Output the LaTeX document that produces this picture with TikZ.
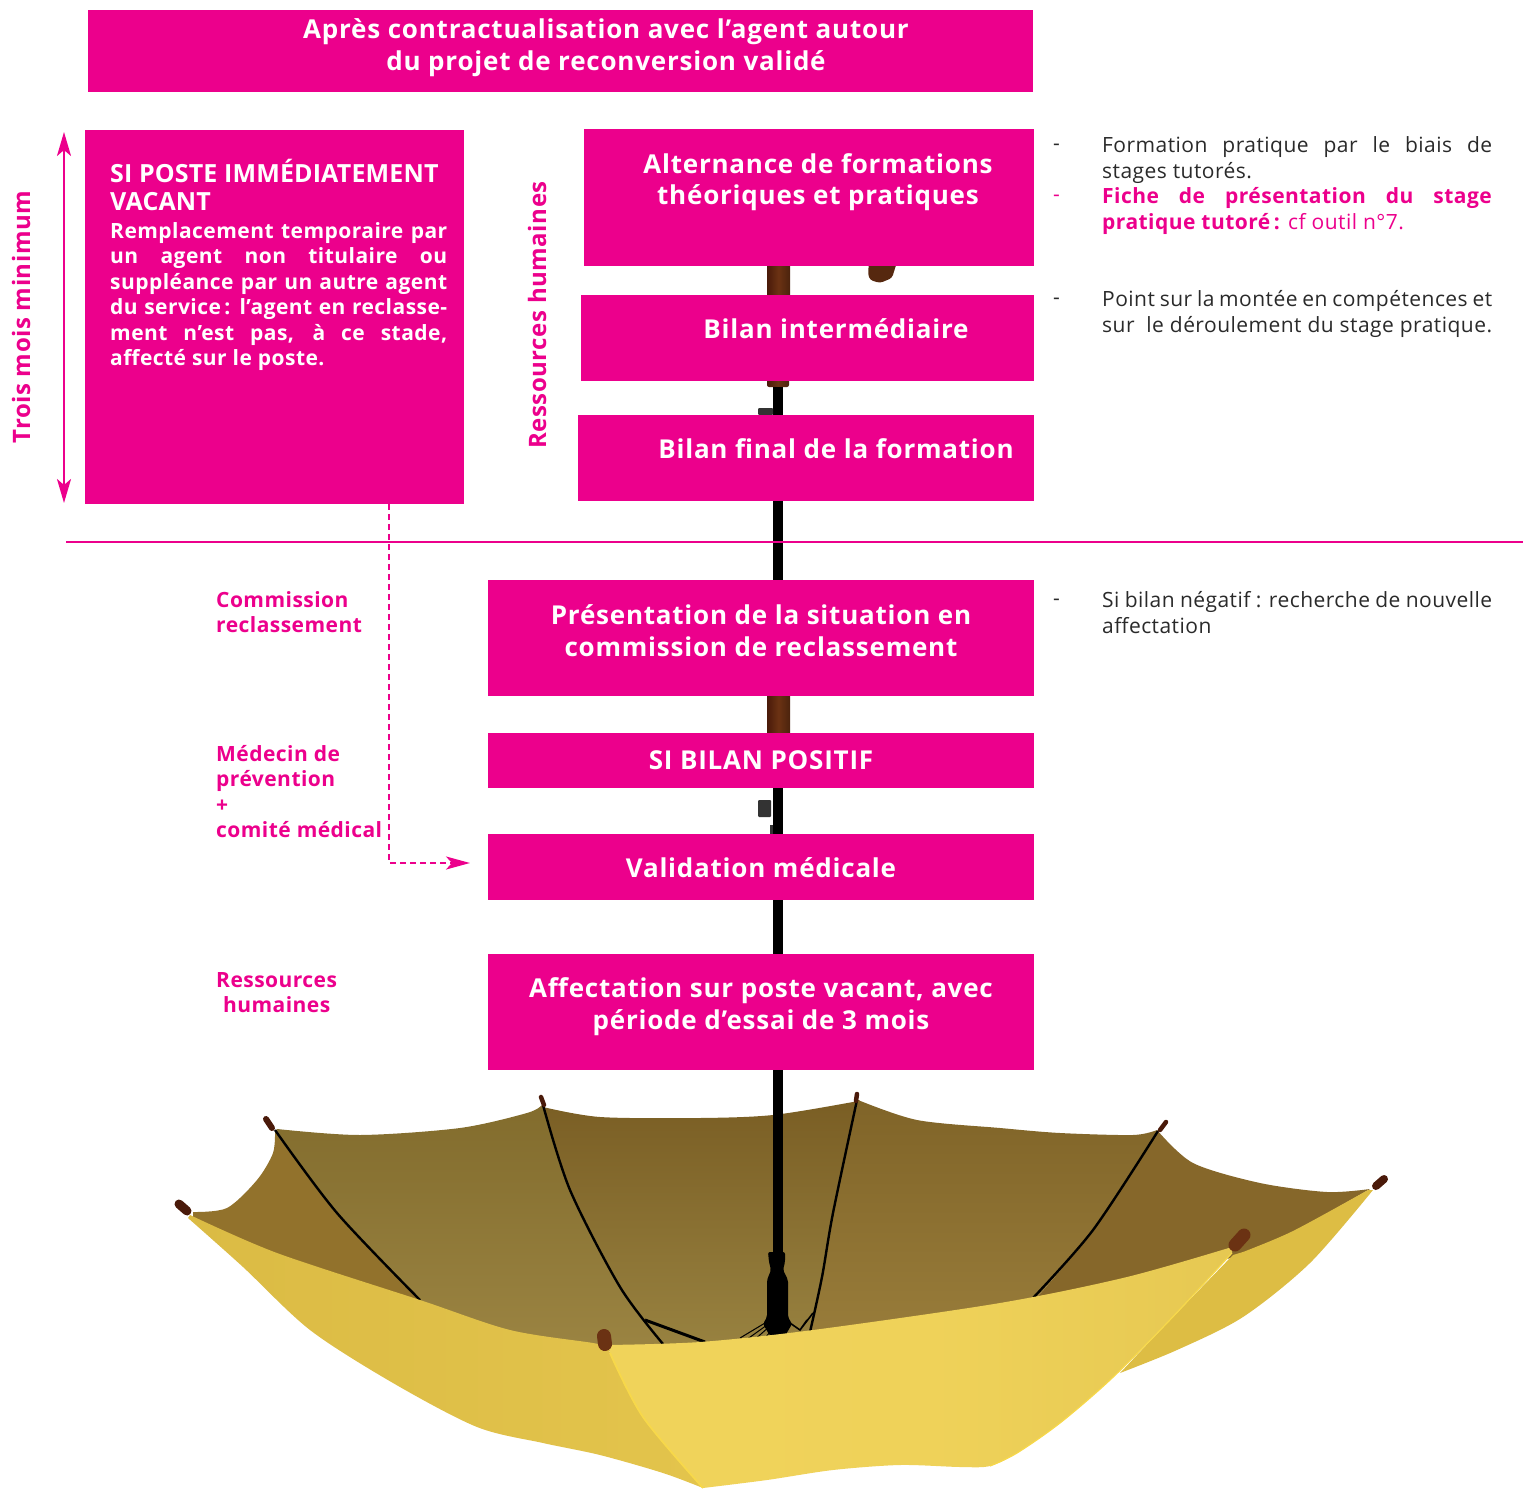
\documentclass[tikz,border=0pt]{standalone}
\usepackage{fontspec}
\setmainfont{Open Sans}
\newfontfamily\headfont[LetterSpace=3]{Open Sans}
\newfontfamily\bodyfont[LetterSpace=2.2]{Open Sans}
\newfontfamily\vacfont[LetterSpace=0.6]{Open Sans}
\definecolor{pinkbox}{HTML}{EC008C}
\definecolor{textgrey}{HTML}{2A2A2A}
\definecolor{woodb}{HTML}{6B3213}
\definecolor{woodd}{HTML}{4A1A0A}
\definecolor{umbfront}{HTML}{F0D35A}
\definecolor{umbfrontr}{HTML}{E6C852}
\definecolor{umbleft}{HTML}{DBBB44}
\definecolor{umblefth}{HTML}{E3C44C}
\definecolor{umbright}{HTML}{DDBD44}
\definecolor{umbedge}{HTML}{F7D84A}
\usetikzlibrary{arrows.meta}
\tikzset{
  pinkfill/.style={fill=pinkbox,draw=none,rectangle,inner sep=0pt,outer sep=0pt,anchor=north west},
  headtxt/.style={text=white,align=center,anchor=base,inner sep=0pt,font=\headfont\bfseries\fontsize{26}{32}\selectfont},
  bodytxt/.style={text=textgrey,align=justify,anchor=north west,inner sep=0pt,text width=390pt,font=\bodyfont\fontsize{21}{26}\selectfont},
  sidetxt/.style={text=pinkbox,align=left,anchor=north west,inner sep=0pt,font=\bodyfont\bfseries\fontsize{21}{25.5}\selectfont},
  rottxt/.style={text=pinkbox,rotate=90,anchor=center,inner sep=0pt,font=\bodyfont\bfseries\fontsize{24}{26}\selectfont},
  dashtxt/.style={bodytxt,text width=10pt},
  vachead/.style={anchor=north west,inner sep=0pt,text=white,align=left,font=\vacfont\bfseries\fontsize{25}{28}\selectfont},
  vacbody/.style={anchor=north west,inner sep=0pt,text=white,text width=337pt,align=justify,font=\bodyfont\bfseries\fontsize{21}{25.5}\selectfont},
  pinkrule/.style={draw=pinkbox,line width=2.4pt},
  flowarrow/.style={draw=pinkbox,line width=2.6pt,dash pattern=on 6pt off 4pt,-{Stealth[length=24pt,width=13pt,inset=6pt]}},
  rib/.style={draw=black,line width=2.4pt},
  polewood/.style={left color=woodd,right color=woodb!70!black,middle color=woodb},
  tipcap/.style={draw=woodd,line cap=round},
}
\begin{document}
\begin{tikzpicture}[x=1pt,y=-1pt]
\useasboundingbox (0,0) rectangle (1526,1490);
% umbrella interior sectors
\fill[color={rgb,255:red,146;green,114;blue,44}]
  plot[smooth] coordinates {(193,1212) (227,1208) (257,1180) (273,1153) (275,1130)}
  -- plot[smooth] coordinates {(275,1132) (337,1213) (425,1305)}
  -- (277,1262) -- (193,1220) -- cycle;
\shade[top color={rgb,255:red,130;green,108;blue,45},bottom color={rgb,255:red,155;green,132;blue,66}]
  plot[smooth] coordinates {(277,1129) (360,1135) (460,1128) (527,1113) (542,1105)}
  -- plot[smooth] coordinates {(543,1107) (570,1190) (620,1287) (665,1348)}
  -- (593,1352) -- (510,1340) -- plot[smooth] coordinates {(425,1305) (337,1213) (275,1132)} -- cycle;
\shade[top color={rgb,255:red,122;green,94;blue,36},bottom color={rgb,255:red,152;green,130;blue,64}]
  plot[smooth] coordinates {(543,1107) (600,1117) (700,1118) (773,1115) (853,1102) (858,1100)}
  -- plot[smooth] coordinates {(858,1100) (833,1213) (822,1277) (810,1335)}
  -- plot[smooth] coordinates {(665,1348) (620,1287) (570,1190) (543,1107)} -- cycle;
\shade[top color={rgb,255:red,128;green,100;blue,40},bottom color={rgb,255:red,152;green,124;blue,58}]
  plot[smooth] coordinates {(858,1100) (917,1120) (1000,1128) (1060,1133) (1133,1135) (1157,1130)}
  -- plot[smooth] coordinates {(1157,1133) (1093,1230) (1033,1302)}
  -- plot[smooth] coordinates {(810,1335) (822,1277) (833,1213) (858,1100)} -- cycle;
\fill[color={rgb,255:red,134;green,103;blue,42}]
  plot[smooth] coordinates {(1157,1130) (1193,1163) (1260,1183) (1327,1192) (1370,1189)}
  -- (1293,1233) -- (1240,1256)
  -- plot[smooth] coordinates {(1033,1302) (1093,1230) (1157,1133)} -- cycle;
% ribs
\draw[rib] plot[smooth] coordinates {(275,1130) (337,1213) (420,1300)};
\draw[rib] plot[smooth] coordinates {(543,1105) (570,1190) (620,1287) (663,1344)};
\draw[rib] plot[smooth] coordinates {(857,1100) (833,1213) (822,1277) (810,1332)};
\draw[rib] plot[smooth] coordinates {(1158,1131) (1093,1230) (1033,1298)};
% pole
\shade[polewood] (767,266) rectangle (790,296);
\shade[polewood,rounded corners=2pt] (767,378) rectangle (789,387);
\fill[black] (772.5,387) rectangle (783,696);
\shade[polewood] (767,696) rectangle (790,734);
\fill[black] (772.5,734) rectangle (783,1260);
\fill[woodb!80!black,rounded corners=3pt] (869,262) -- (897,262) -- (892,278) -- (880,283) -- (870,280) -- (868,274) -- cycle;
\fill[black!80,rounded corners=1pt] (758,408) rectangle (773,415);
\fill[black!80,rounded corners=1pt] (758,800) rectangle (771,817);
\fill[black!80] (770,825) rectangle (773,834);
% grip and spokes
\fill[black,rounded corners=2pt] (768,1252) -- (785,1252) -- (785,1262) -- (783,1270) -- (788,1280) -- (788,1317) -- (792,1324) -- (785,1336) -- (770,1336) -- (763,1324) -- (767,1317) -- (767,1280) -- (771,1270) -- (769,1262) -- cycle;
\draw[black,line width=1pt] (765,1323) -- (740,1338) (767,1325) -- (746,1340) (770,1326) -- (752,1342) (773,1328) -- (762,1342);
\draw[black,line width=1.6pt] (790,1323) -- (800,1330) -- (813,1313) (800,1330) -- (807,1320);
\draw[black,line width=3pt] (645,1320) -- (705,1342);
% yellow outside
\shade[left color=umbleft,right color=umblefth]
  plot[smooth] coordinates {(190,1215) (277,1253) (420,1300) (510,1330) (593,1343) (608,1347)}
  -- plot[smooth] coordinates {(610,1353) (643,1417) (703,1488)}
  -- plot[smooth] coordinates {(703,1488) (663,1473) (600,1455) (543,1443) (477,1427) (393,1383) (310,1330) (243,1267) (188,1218)} -- cycle;
\fill[umbright]
  plot[smooth] coordinates {(1233,1255) (1173,1317) (1120,1373)}
  -- plot[smooth] coordinates {(1120,1373) (1177,1350) (1243,1317) (1310,1263) (1373,1190)}
  -- plot[smooth] coordinates {(1368,1190) (1293,1231) (1243,1252)} -- cycle;
\shade[left color=umbfront,right color=umbfrontr,middle color=umbfront!92!umbfrontr]
  plot[smooth] coordinates {(608,1345) (700,1342) (813,1330) (1000,1303) (1127,1277) (1232,1247)}
  -- plot[smooth] coordinates {(1232,1253) (1167,1323) (1110,1380) (1060,1423) (1017,1453) (990,1466) (960,1467) (900,1465) (833,1470) (767,1480) (703,1488)}
  -- plot[smooth] coordinates {(703,1488) (643,1417) (610,1353)} -- cycle;
\draw[umbedge,line width=1.8pt] plot[smooth] coordinates {(610,1353) (643,1417) (703,1488)};
\draw[umbedge,line width=1.2pt] plot[smooth] coordinates {(1232,1253) (1167,1323) (1110,1380) (1060,1423) (1017,1453) (990,1466)};
% tips
\draw[tipcap,line width=9pt] (179,1204) -- (187,1211);
\draw[tipcap,line width=6pt] (266,1119) -- (272,1128);
\draw[tipcap,line width=4.5pt] (541,1097) -- (544,1105);
\draw[tipcap,line width=4.5pt] (857,1094) -- (856,1101);
\draw[tipcap,line width=4.5pt] (1160,1130) -- (1166,1122);
\draw[tipcap,line width=8pt] (1376,1186) -- (1384,1179);
\draw[line cap=round,draw=woodb,line width=13pt] (1235,1245) -- (1244,1235);
\draw[line cap=round,draw=woodb,line width=14pt] (604,1336) -- (605,1344);
% boxes
\node[pinkfill,minimum width=945pt,minimum height=82pt] (bTop) at (88,10) {};
\node[pinkfill,minimum width=379pt,minimum height=374pt] (bVac) at (85,130) {};
\node[pinkfill,minimum width=450pt,minimum height=137pt] (bAlt) at (584,129) {};
\node[pinkfill,minimum width=453pt,minimum height=86pt] (bInt) at (581,295) {};
\node[pinkfill,minimum width=456pt,minimum height=86pt] (bFin) at (578,415) {};
\node[pinkfill,minimum width=546pt,minimum height=116pt] (bPre) at (488,580) {};
\node[pinkfill,minimum width=546pt,minimum height=55pt] (bPos) at (488,733) {};
\node[pinkfill,minimum width=546pt,minimum height=66pt] (bVal) at (488,834) {};
\node[pinkfill,minimum width=546pt,minimum height=116pt] (bAff) at (488,954) {};
% box texts
\node[headtxt] (tTop) at (606,71) {Après contractualisation avec l’agent autour\\du projet de reconversion validé};
\node[headtxt] (tAlt) at (818,205) {Alternance de formations\\théoriques et pratiques};
\node[headtxt] (tInt) at (836,338) {Bilan intermédiaire};
\node[headtxt] (tFin) at (836,458) {Bilan final de la formation};
\node[headtxt] (tPre) at (761,656) {Présentation de la situation en\\commission de reclassement};
\node[headtxt] (tPos) at (761,769) {SI BILAN POSITIF};
\node[headtxt] (tVal) at (761,877) {Validation médicale};
\node[headtxt] (tAff) at (761,1029) {Affectation sur poste vacant, avec\\période d’essai de 3 mois};
\node[vachead] (tVacH) at (110,159) {SI POSTE IMMÉDIATEMENT\\VACANT};
\node[vacbody] (tVac) at (110,222) {Remplacement temporaire par\linebreak un agent non titulaire ou\linebreak suppléance par un autre agent\linebreak du service\,: l’agent en reclasse-\linebreak ment n’est pas, à ce stade,\linebreak affecté sur le poste.};
% rotated labels
\node[rottxt] (tTrois) at (21,317) {Trois mois minimum};
\node[rottxt] (tRH) at (537,315) {Ressources humaines};
% left labels
\node[sidetxt] (lCom) at (216,591) {Commission\\reclassement};
\node[sidetxt] (lMed) at (216,745) {Médecin de\\prévention\\+\\comité médical};
\node[sidetxt,align=center] (lRes) at (216,972) {Ressources\\humaines};
% right notes
\node[dashtxt] (d1) at (1053,144) {-};
\node[bodytxt] (n1) at (1102,136) {Formation pratique par le biais de\linebreak stages tutorés.};
\node[dashtxt,text=pinkbox] (d2) at (1053,195) {-};
\node[bodytxt,text=pinkbox] (n2) at (1102,187) {\textbf{Fiche de présentation du stage}\linebreak \textbf{pratique tutoré\,:} cf outil n°7.};
\node[dashtxt] (d3) at (1053,298) {-};
\node[bodytxt] (n3) at (1102,290) {Point sur la montée en compétences et\linebreak sur~ le déroulement du stage pratique.};
\node[dashtxt] (d4) at (1053,599) {-};
\node[bodytxt] (n4) at (1102,591) {Si bilan négatif : recherche de nouvelle\linebreak affectation};
% rule and arrows
\coordinate (ruleL) at (66,542);
\coordinate (ruleR) at (1523,542);
\draw[pinkrule] (ruleL) -- (ruleR);
\coordinate (arrT) at (64,132);
\coordinate (arrB) at (64,503);
\draw[pinkrule,{Stealth[length=24pt,width=14pt,inset=6pt]}-{Stealth[length=24pt,width=14pt,inset=6pt]}] (arrT) -- (arrB);
\coordinate (dashS) at (389,504);
\coordinate (dashE) at (470,863);
\draw[flowarrow] (dashS) |- (dashE);
\end{tikzpicture}
\end{document}
